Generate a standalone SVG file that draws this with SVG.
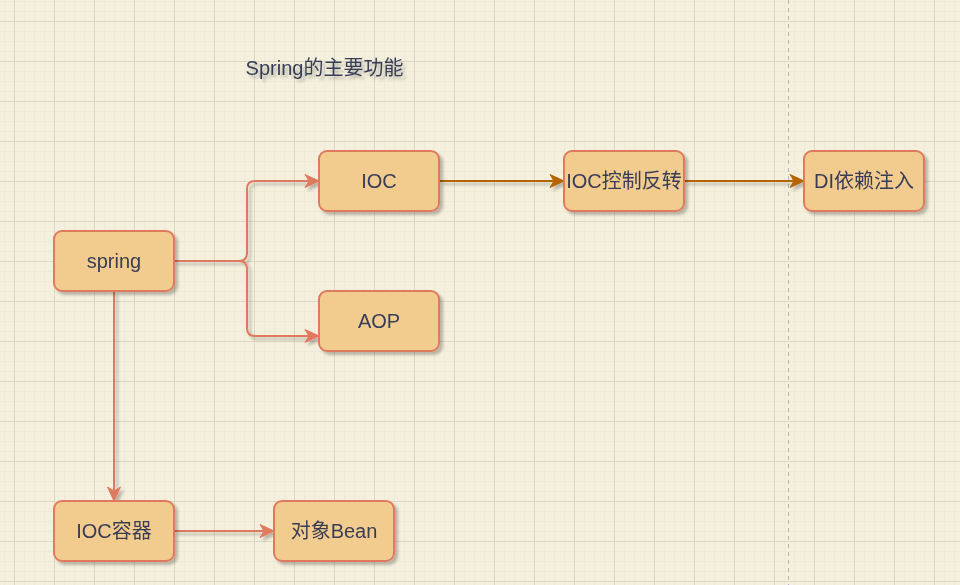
<svg xmlns="http://www.w3.org/2000/svg" width="960" height="585" viewBox="0 0 960 585">
<defs>
<pattern id="minor" patternUnits="userSpaceOnUse" x="4" y="1" width="10" height="10">
<path d="M0.5 0V10M0 0.5H10" stroke="#edead6" stroke-width="1" fill="none"/>
</pattern>
<pattern id="major" patternUnits="userSpaceOnUse" x="14" y="21" width="40" height="40">
<path d="M0.5 0V40M0 0.5H40" stroke="#dcd8c4" stroke-width="1" fill="none"/>
</pattern>
<filter id="sh" x="-20%" y="-20%" width="150%" height="160%">
<feGaussianBlur in="SourceAlpha" stdDeviation="1.6"/>
<feOffset dx="3" dy="3" result="b"/>
<feComponentTransfer><feFuncA type="linear" slope="0.25"/></feComponentTransfer>
<feMerge><feMergeNode/><feMergeNode in="SourceGraphic"/></feMerge>
</filter>
<marker id="arrO" viewBox="-1 -1 16 15" refX="13" refY="6.5" markerWidth="16" markerHeight="15" markerUnits="userSpaceOnUse" orient="auto">
<path d="M0 0L14 6.5L0 13L4 6.5Z" fill="#e07a5f" stroke="#e07a5f" stroke-width="1" stroke-linejoin="round"/>
</marker>
<marker id="arrB" viewBox="-1 -1 16 15" refX="13" refY="6.5" markerWidth="16" markerHeight="15" markerUnits="userSpaceOnUse" orient="auto">
<path d="M0 0L14 6.5L0 13L4 6.5Z" fill="#b46504" stroke="#b46504" stroke-width="1" stroke-linejoin="round"/>
</marker>
</defs>
<style>
.node rect{fill:#f2cc8f;stroke:#e07a5f;stroke-width:2;}
.node text,.title{font-family:"Liberation Sans","Noto Sans CJK SC",sans-serif;fill:#393c56;text-anchor:middle;}
.node text{font-size:20px;}
.e{fill:none;stroke:#e07a5f;stroke-width:2;marker-end:url(#arrO);}
.eb{fill:none;stroke:#b46504;stroke-width:2;marker-end:url(#arrB);}
</style>
<rect width="960" height="585" fill="#f4f0dd"/>
<rect width="960" height="585" fill="url(#minor)"/>
<rect width="960" height="585" fill="url(#major)"/>
<line x1="788.5" y1="0" x2="788.5" y2="585" stroke="#b4b2c0" stroke-width="1" stroke-dasharray="4 4"/>

<g id="title" filter="url(#sh)">
<text class="title" x="324.5" y="75" font-size="20">Spring的主要功能</text>
</g>

<g id="connectors" filter="url(#sh)">
<path class="e" d="M174 261H239Q247 261 247 253V189Q247 181 255 181H318"/>
<path class="e" d="M174 261H239Q247 261 247 269V328Q247 336 255 336H318"/>
<path class="e" d="M114 291V500"/>
<path class="e" d="M174 531H273"/>
<path class="eb" d="M439 181H563"/>
<path class="eb" d="M684 181H803"/>
</g>

<g id="spring" class="node" filter="url(#sh)">
<rect x="54" y="231" width="120" height="60" rx="8"/>
<text x="114" y="268">spring</text>
</g>
<g id="ioc" class="node" filter="url(#sh)">
<rect x="319" y="151" width="120" height="60" rx="8"/>
<text x="379" y="188">IOC</text>
</g>
<g id="aop" class="node" filter="url(#sh)">
<rect x="319" y="291" width="120" height="60" rx="8"/>
<text x="379" y="328">AOP</text>
</g>
<g id="ioc-ctrl" class="node" filter="url(#sh)">
<rect x="564" y="151" width="120" height="60" rx="8"/>
<text x="624" y="188">IOC控制反转</text>
</g>
<g id="di" class="node" filter="url(#sh)">
<rect x="804" y="151" width="120" height="60" rx="8"/>
<text x="864" y="188">DI依赖注入</text>
</g>
<g id="ioc-container" class="node" filter="url(#sh)">
<rect x="54" y="501" width="120" height="60" rx="8"/>
<text x="114" y="538">IOC容器</text>
</g>
<g id="bean" class="node" filter="url(#sh)">
<rect x="274" y="501" width="120" height="60" rx="8"/>
<text x="334" y="538">对象Bean</text>
</g>
</svg>
